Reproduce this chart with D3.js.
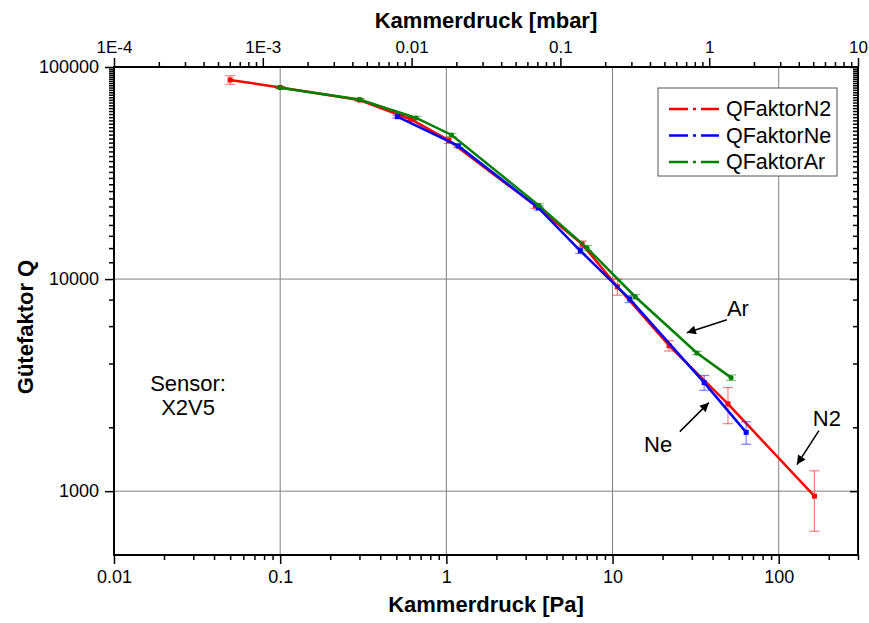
<!DOCTYPE html>
<html>
<head>
<meta charset="utf-8">
<script src="https://cdn.jsdelivr.net/npm/d3@7"></script>
<style>
  body { margin: 0; background: #fff; }
  svg { font-family: "Liberation Sans", Arial, sans-serif; }
</style>
</head>
<body>
<div id="chart"></div>
<script>
// Kammerdruck [Pa] and Gütefaktor Q
const n2Pressure = [0.05, 0.1, 0.3, 0.61, 1.035, 3.44, 6.56, 10.7, 21.9, 49.5, 164]
const n2Q = [86900, 80100, 69900, 56700, 45070, 22150, 14620, 9200, 4850, 2580, 947]
const n2Err = [4000, 800, 1000, 1000, 1500, 600, 500, 800, 270, 500, 300]

const nePressure = [0.507, 1.18, 3.58, 6.4, 12.7, 35.6, 63.7]
const neQ = [58300, 42450, 21670, 13600, 8050, 3250, 1894]
const neErr = [800, 800, 500, 400, 300, 260, 230]

const arPressure = [0.1, 0.3, 0.658, 1.075, 3.6, 7.03, 13.7, 32.2, 51.7]
const arQ = [79900, 70300, 57500, 47800, 22260, 14000, 8255, 4480, 3430]
const arErr = [800, 800, 1000, 800, 400, 400, 200, 80, 100]

const seriesNames = ["QFaktorN2", "QFaktorNe", "QFaktorAr"]
const seriesColors = ["#ff0000", "#0000ff", "#008000"]

const bottomTicks = [0.01, 0.1, 1, 10, 100]
const topTicks = [1e-4, 1e-3, 0.01, 0.1, 1, 10]
const topTickLabels = ["1E-4", "1E-3", "0.01", "0.1", "1", "10"]
const leftTicks = [1000, 10000, 100000]

// labels with arrows: text point, arrow start, arrow tip (Pa, Q)
const notes = [
  {text: "Ar", at: [56.8, 6700], from: [48.8, 6430], to: [28.0, 5585]},
  {text: "Ne", at: [18.8, 1524], from: [25.4, 1909], to: [38.0, 2614]},
  {text: "N2", at: [195, 2037], from: [174.6, 1930], to: [128.7, 1334]}
]
const sensorLines = ["Sensor:", "X2V5"]
const sensorAt = [[0.0279, 2978], [0.0279, 2296]]

const width = 869, height = 623
const margin = {top: 67, right: 11, bottom: 68, left: 114}

const svg = d3.select("#chart").append("svg")
  .attr("width", width).attr("height", height)

const x = d3.scaleLog().domain([0.01, 300]).range([margin.left, width - margin.right])
const xTop = d3.scaleLog().domain([1e-4, 10]).range([margin.left, width - margin.right])
const y = d3.scaleLog().domain([500, 100000]).range([height - margin.bottom, margin.top])

const isMajor = v => Math.abs(Math.log10(v) - Math.round(Math.log10(v))) < 1e-9
const minorsOf = s => s.ticks(50).filter(v => !isMajor(v))

const plotW = width - margin.left - margin.right
const plotH = height - margin.top - margin.bottom

// grid
svg.append("g").selectAll("line").data(bottomTicks.slice(1)).join("line")
  .attr("x1", d => x(d)).attr("x2", d => x(d))
  .attr("y1", margin.top).attr("y2", height - margin.bottom)
  .attr("stroke", "#808080").attr("stroke-width", 1)
svg.append("g").selectAll("line").data(leftTicks.slice(0, 2)).join("line")
  .attr("x1", margin.left).attr("x2", width - margin.right)
  .attr("y1", d => y(d)).attr("y2", d => y(d))
  .attr("stroke", "#808080").attr("stroke-width", 1)

// axes
function styleAxis(g) {
  g.attr("font-family", null).attr("font-size", 18)
  g.selectAll(".tick line").attr("stroke", "#000").attr("stroke-width", 1.5)
  g.select(".domain").remove()
  g.selectAll("text").attr("fill", "#000")
}

svg.append("g")
  .attr("transform", `translate(0,${height - margin.bottom})`)
  .call(d3.axisBottom(x).tickValues(bottomTicks).tickFormat(d3.format("~g")).tickSize(9).tickPadding(6))
  .call(styleAxis)
svg.append("g")
  .attr("transform", `translate(0,${height - margin.bottom})`)
  .call(d3.axisBottom(x).tickValues(minorsOf(x)).tickFormat("").tickSize(5))
  .call(styleAxis)

svg.append("g")
  .attr("transform", `translate(0,${margin.top})`)
  .call(d3.axisTop(xTop).tickValues(topTicks).tickFormat((d, i) => topTickLabels[i]).tickSize(9).tickPadding(5))
  .call(styleAxis)
  .call(g => g.selectAll("text").attr("font-size", 17))
svg.append("g")
  .attr("transform", `translate(0,${margin.top})`)
  .call(d3.axisTop(xTop).tickValues(minorsOf(xTop)).tickFormat("").tickSize(5))
  .call(styleAxis)

svg.append("g")
  .attr("transform", `translate(${margin.left},0)`)
  .call(d3.axisLeft(y).tickValues(leftTicks).tickFormat(d3.format("d")).tickSize(9).tickPadding(6))
  .call(styleAxis)
svg.append("g")
  .attr("transform", `translate(${margin.left},0)`)
  .call(d3.axisLeft(y).tickValues(minorsOf(y)).tickFormat("").tickSize(5))
  .call(styleAxis)

svg.append("g")
  .attr("transform", `translate(${width - margin.right},0)`)
  .call(d3.axisLeft(y).tickValues(leftTicks).tickFormat("").tickSize(8))
  .call(styleAxis)
svg.append("g")
  .attr("transform", `translate(${width - margin.right},0)`)
  .call(d3.axisLeft(y).tickValues(minorsOf(y)).tickFormat("").tickSize(5))
  .call(styleAxis)

svg.append("rect")
  .attr("x", margin.left).attr("y", margin.top)
  .attr("width", plotW).attr("height", plotH)
  .attr("fill", "none").attr("stroke", "#000").attr("stroke-width", 2)

// axis titles
svg.append("text")
  .attr("x", margin.left + plotW / 2).attr("y", 612)
  .attr("text-anchor", "middle").attr("font-size", 22).attr("font-weight", "bold")
  .text("Kammerdruck [Pa]")
svg.append("text")
  .attr("x", margin.left + plotW / 2).attr("y", 28)
  .attr("text-anchor", "middle").attr("font-size", 22).attr("font-weight", "bold")
  .text("Kammerdruck [mbar]")
svg.append("text")
  .attr("transform", "translate(33,327) rotate(-90)")
  .attr("text-anchor", "middle").attr("font-size", 22).attr("font-weight", "bold")
  .text("Gütefaktor Q")

// series
const series = [
  {p: n2Pressure, q: n2Q, e: n2Err, marker: "square"},
  {p: nePressure, q: neQ, e: neErr, marker: "square"},
  {p: arPressure, q: arQ, e: arErr, marker: "circle"}
].map((s, i) => ({
  name: seriesNames[i],
  color: seriesColors[i],
  marker: s.marker,
  values: s.p.map((p, j) => ({p, q: s.q[j], e: s.e[j]}))
}))

const line = d3.line().x(d => x(d.p)).y(d => y(d.q))

series.forEach(s => {
  const g = svg.append("g")
  const bars = g.append("g")
    .attr("stroke", s.color).attr("stroke-opacity", 0.5).attr("stroke-width", 1.2)
    .selectAll("g").data(s.values).join("g")
  bars.append("line")
    .attr("x1", d => x(d.p)).attr("x2", d => x(d.p))
    .attr("y1", d => y(d.q + d.e)).attr("y2", d => y(d.q - d.e))
  bars.append("line")
    .attr("x1", d => x(d.p) - 5).attr("x2", d => x(d.p) + 5)
    .attr("y1", d => y(d.q + d.e)).attr("y2", d => y(d.q + d.e))
  bars.append("line")
    .attr("x1", d => x(d.p) - 5).attr("x2", d => x(d.p) + 5)
    .attr("y1", d => y(d.q - d.e)).attr("y2", d => y(d.q - d.e))

  g.append("path")
    .attr("d", line(s.values))
    .attr("fill", "none").attr("stroke", s.color).attr("stroke-width", 2.5)

  if (s.marker === "square") {
    g.selectAll("rect").data(s.values).join("rect")
      .attr("x", d => x(d.p) - 2.5).attr("y", d => y(d.q) - 2.5)
      .attr("width", 5).attr("height", 5).attr("fill", s.color)
  } else {
    g.selectAll("circle").data(s.values).join("circle")
      .attr("cx", d => x(d.p)).attr("cy", d => y(d.q))
      .attr("r", 2.5).attr("fill", s.color)
  }
})

// legend
const legend = svg.append("g").attr("transform", "translate(658,88)")
legend.append("rect")
  .attr("width", 179).attr("height", 88)
  .attr("fill", "#fff").attr("stroke", "#555").attr("stroke-width", 1)
series.forEach((s, i) => {
  const ly = 21 + i * 26.5
  legend.append("line")
    .attr("x1", 11).attr("x2", 61).attr("y1", ly).attr("y2", ly)
    .attr("stroke", s.color).attr("stroke-width", 2.5)
    .attr("stroke-dasharray", "19,5,3,5,20")
  legend.append("text")
    .attr("x", 68).attr("y", ly + 7)
    .attr("font-size", 21.5)
    .text(s.name)
})

// annotations
svg.append("defs").append("marker")
  .attr("id", "arrow").attr("viewBox", "0 0 10 10")
  .attr("refX", 10).attr("refY", 5)
  .attr("markerWidth", 11).attr("markerHeight", 9)
  .attr("markerUnits", "userSpaceOnUse")
  .attr("orient", "auto")
  .append("path").attr("d", "M0,0L10,5L0,10z").attr("fill", "#000")

notes.forEach(n => {
  svg.append("text")
    .attr("x", x(n.at[0])).attr("y", y(n.at[1]))
    .attr("text-anchor", "middle").attr("font-size", 22)
    .text(n.text)
  svg.append("line")
    .attr("x1", x(n.from[0])).attr("y1", y(n.from[1]))
    .attr("x2", x(n.to[0])).attr("y2", y(n.to[1]))
    .attr("stroke", "#000").attr("stroke-width", 1.5)
    .attr("marker-end", "url(#arrow)")
})

sensorLines.forEach((t, i) => {
  svg.append("text")
    .attr("x", x(sensorAt[i][0])).attr("y", y(sensorAt[i][1]))
    .attr("text-anchor", "middle").attr("font-size", 22)
    .text(t)
})
</script>
</body>
</html>
